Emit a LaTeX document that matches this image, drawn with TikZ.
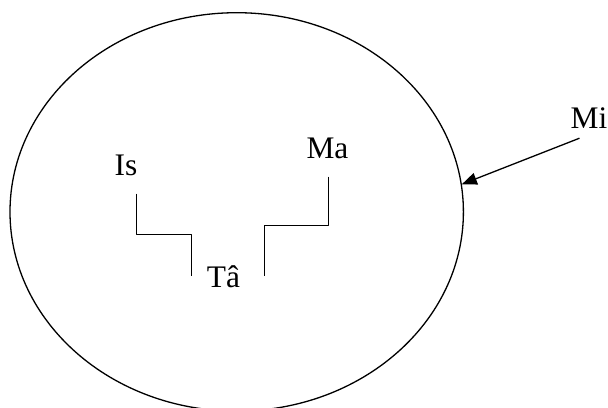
\documentclass[tikz,border=0pt]{standalone}
\usepackage{fontspec}
\setmainfont{Liberation Serif}
\usetikzlibrary{shapes.geometric,arrows.meta}

\begin{document}
\begin{tikzpicture}[x=1bp,y=-1bp,line join=round,
    nome/.style={inner sep=0pt,font=\fontsize{31.5}{37}\selectfont},
    mondo/.style={ellipse,draw,line width=1.3bp,inner sep=0pt,
                  minimum width=453.4bp,minimum height=398.4bp},
    legame/.style={line width=0.8bp},
    freccia/.style={line width=1.3bp,-{Triangle[length=15bp,width=12bp]}}]

  \useasboundingbox (0,0) rectangle (608,407);
  \clip (0,0) rectangle (608,407);

  % ======================= the big ellipse ===================
  \node[mondo] (world) at (236.7,211.9) {};

  % ======================= the three names inside ===================
  \node[nome,anchor=base] (Is) at (126.0,175) {Is};      % left
  \node[nome,anchor=base] (Ma) at (327.5,158) {Ma};      % right
  \node[nome,anchor=base] (Ta) at (223.5,287) {Tâ};      % bottom middle

  % ======================= outside label ===================
  \node[nome,anchor=base] (Mi) at (589.0,128) {Mi};

  % ======================= step links ===================
  \draw[legame] ([shift={(-1,18)}]Is.south east) -- ++(0,41)
                -| ([shift={(-15,0)}]Ta.west);
  \draw[legame] ([shift={(0.5,18)}]Ma.south) -- ++(0,49)
                -| ([shift={(24,0)}]Ta.east);

  % ======================= arrow to the ellipse ===================
  \draw[freccia] ([shift={(9,10)}]Mi.south west) -- (world.7);

\end{tikzpicture}
\end{document}
